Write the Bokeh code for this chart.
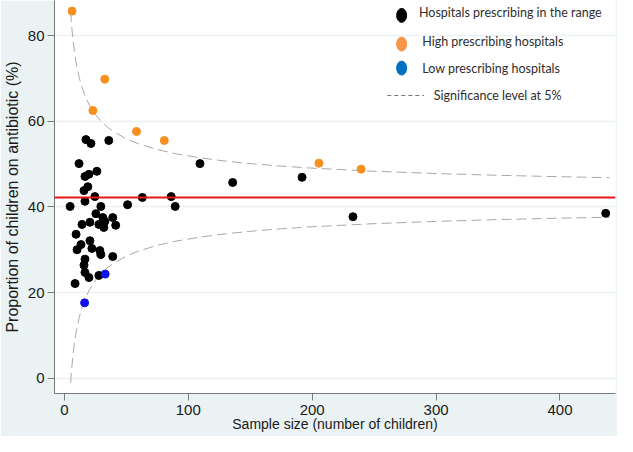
from bokeh.plotting import figure
from bokeh.models import Range1d, FixedTicker, Span
from bokeh.core.properties import value
from bokeh.embed import file_html
from bokeh.resources import INLINE

# ---- data ----
black_n = [4.6, 11.8, 17.4, 21.4, 35.8, 16.6, 19.8, 26.2, 18.9, 15.8, 24.6, 16.6, 29.4,
           51.0, 62.9, 86.2, 89.4, 109.4, 135.8, 191.8, 232.9, 436.9,
           25.4, 31.0, 39.0, 14.2, 20.6, 27.8, 32.6, 41.4, 31.8, 9.4, 13.4, 10.2, 20.6,
           22.2, 28.6, 29.4, 39.0, 16.6, 15.8, 16.6, 19.8, 27.8, 8.6]
black_p = [40.1, 50.1, 55.7, 54.8, 55.5, 47.1, 47.6, 48.3, 44.7, 43.8, 42.4, 41.3, 40.1,
           40.5, 42.2, 42.4, 40.1, 50.1, 45.7, 46.9, 37.7, 38.5,
           38.4, 37.5, 37.5, 35.9, 36.4, 35.9, 36.6, 35.7, 35.2, 33.6, 31.2, 30.0, 32.1,
           30.3, 29.8, 28.9, 28.4, 27.8, 26.4, 24.7, 23.5, 24.0, 22.1]
high_n = [6.2, 32.6, 23.0, 58.2, 80.6, 205.4, 239.5]
high_p = [85.7, 69.8, 62.5, 57.6, 55.5, 50.2, 48.8]
low_n = [16.3, 32.9]
low_p = [17.6, 24.3]
overall_rate = 42.2
limit_n = [5, 5.5, 6, 7, 8, 9, 10, 12, 14, 17, 20, 25, 30, 35, 40, 50, 60, 75, 90, 110,
           130, 150, 175, 200, 250, 300, 350, 400, 440]
upper_limit = [85.49, 83.48, 81.72, 78.79, 76.42, 74.47, 72.81, 70.14, 68.07, 65.68, 63.85,
               61.56, 59.87, 58.56, 57.50, 55.89, 54.70, 53.38, 52.40, 51.43, 50.69, 50.10,
               49.52, 49.04, 48.32, 47.79, 47.37, 47.04, 46.81]
lower_limit = [-1.09, 0.92, 2.68, 5.61, 7.98, 9.93, 11.59, 14.26, 16.33, 18.72, 20.55, 22.84,
               24.53, 25.84, 26.90, 28.51, 29.70, 31.02, 32.00, 32.97, 33.71, 34.30, 34.88,
               35.36, 36.08, 36.61, 37.03, 37.36, 37.59]
x_ticks = [0, 100, 200, 300, 400]
y_ticks = [0, 20, 40, 60, 80]
legend_labels = ["Hospitals prescribing in the range", "High prescribing hospitals",
                 "Low prescribing hospitals", "Significance level at 5%"]

# ---- styling ----
BG = "#EAF2F3"
AXIS_FONT = "Liberation Sans"

p = figure(width=617, height=436, output_backend="svg", toolbar_location=None,
           x_range=Range1d(-8.0, 444.8), y_range=Range1d(-3.57, 88.18),
           min_border_left=49, min_border_right=2, min_border_top=0, min_border_bottom=43)
p.border_fill_color = BG
p.background_fill_color = "white"
p.outline_line_color = None

p.xgrid.visible = False
p.ygrid.ticker = FixedTicker(ticks=y_ticks)
p.ygrid.grid_line_color = BG
p.ygrid.grid_line_width = 1.5

p.xaxis.ticker = FixedTicker(ticks=x_ticks)
p.yaxis.ticker = FixedTicker(ticks=y_ticks)
for ax in (p.xaxis, p.yaxis):
    ax.axis_line_color = "#7a7a7a"
    ax.major_tick_line_color = "#7a7a7a"
    ax.major_tick_out = 7
    ax.major_tick_in = 0
    ax.minor_tick_line_color = None
    ax.major_label_text_font = AXIS_FONT
    ax.major_label_text_font_size = "15px"
    ax.major_label_text_color = "#1a1a1a"
    ax.axis_label_text_font = AXIS_FONT
    ax.axis_label_text_font_style = "normal"
    ax.axis_label_text_color = "#1a1a1a"
p.xaxis.axis_label = "Sample size (number of children)"
p.yaxis.axis_label = "Proportion of children on antibiotic (%)"
p.xaxis.axis_label_text_font_size = "14px"
p.yaxis.axis_label_text_font_size = "16px"
p.xaxis.major_label_standoff = 4
p.xaxis.axis_label_standoff = -2
p.yaxis.major_label_standoff = 3
p.yaxis.axis_label_standoff = 4

# funnel limits
p.line(limit_n, upper_limit, line_color="#a8a8a8", line_width=1, line_dash="10 5")
p.line(limit_n, lower_limit, line_color="#a8a8a8", line_width=1, line_dash="10 5")

# overall rate
p.add_layout(Span(location=overall_rate, dimension="width", line_color="#e8161b", line_width=2))

# points
p.scatter(black_n, black_p, size=8, line_width=1, fill_color="black", line_color="black")
p.scatter(high_n, high_p, size=8, line_width=1, fill_color="#f7901e", line_color="#f7901e")
p.scatter(low_n, low_p, size=8, line_width=1, fill_color="#1010e8", line_color="#1010e8")

# legend (drawn inside the plot area, top right)
leg_marker_x = 272.2
leg_marker_y = [84.7, 78.0, 72.4]
leg_text_x = [286.2, 288.8, 288.8, 298.2]
leg_text_y = [85.3, 78.6, 72.4, 66.0]
leg_colors = ["black", "#f79646", "#0070c0"]
p.ellipse(x=[leg_marker_x] * 3, y=leg_marker_y, width=10, height=14,
          width_units="screen", height_units="screen",
          fill_color=leg_colors, line_color=leg_colors)
p.line([260.6, 290.2], [leg_text_y[3], leg_text_y[3]], line_color="#6f7780", line_width=1,
       line_dash="4 3")
p.text(x=leg_text_x, y=leg_text_y, text=legend_labels,
       text_font=value("Lato"), text_font_size="12.5px", text_color="#2e2e2e",
       text_align="left", text_baseline="middle")

open("out.html", "w").write(file_html(p, INLINE))
